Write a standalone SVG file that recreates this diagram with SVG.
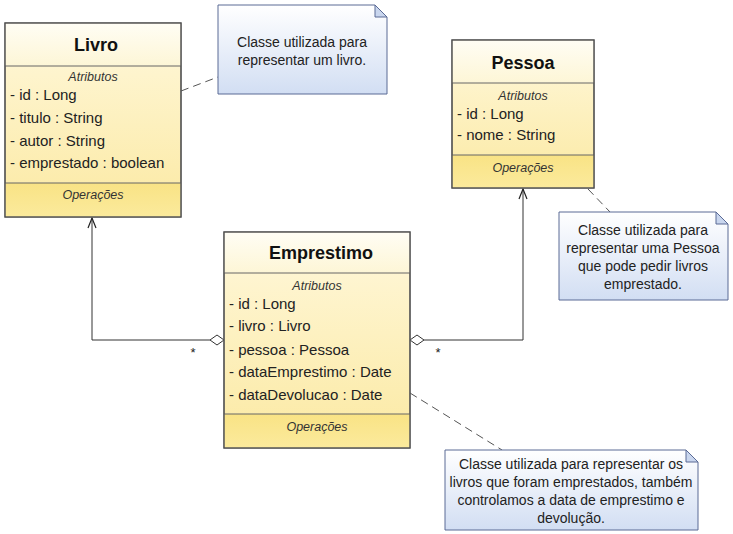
<svg xmlns="http://www.w3.org/2000/svg" width="733" height="534" viewBox="0 0 733 534">
<defs>
<linearGradient id="gTitle" x1="0" y1="0" x2="0" y2="1"><stop offset="0" stop-color="#fffdf4"/><stop offset="1" stop-color="#fdf6d6"/></linearGradient>
<linearGradient id="gAttr" x1="0" y1="0" x2="0" y2="1"><stop offset="0" stop-color="#fff8dc"/><stop offset="1" stop-color="#fbe9a2"/></linearGradient>
<linearGradient id="gOps" x1="0" y1="0" x2="0" y2="1"><stop offset="0" stop-color="#f9e385"/><stop offset="1" stop-color="#fbea9c"/></linearGradient>
<linearGradient id="gNote" x1="0" y1="0" x2="0" y2="1"><stop offset="0" stop-color="#ffffff"/><stop offset="1" stop-color="#d2def3"/></linearGradient>
<marker id="arrow" markerWidth="12" markerHeight="12" refX="11" refY="6" orient="auto" markerUnits="userSpaceOnUse" viewBox="0 0 12 12"><path d="M1,2 L11,6 L1,10" fill="none" stroke="#222" stroke-width="1.2"/></marker>
</defs>
<style>
.box{stroke:#555;stroke-width:1.2}
.sep{stroke:#666;stroke-width:1}
.title{font-family:"Liberation Sans",Arial,sans-serif;font-size:18px;font-weight:bold;fill:#111;text-anchor:middle}
.sec{font-family:"Liberation Sans",Arial,sans-serif;font-size:12.5px;font-style:italic;fill:#333;text-anchor:middle}
.attr{font-family:"Liberation Sans",Arial,sans-serif;font-size:15px;fill:#222}
.note{fill:url(#gNote);stroke:#5a6a95;stroke-width:1}
.fold{fill:#c9d6ee;stroke:#5a6a95;stroke-width:1}
.ntext{font-family:"Liberation Sans",Arial,sans-serif;font-size:14px;fill:#222;text-anchor:middle}
.line{fill:none;stroke:#333;stroke-width:1}
.dash{fill:none;stroke:#555;stroke-width:1;stroke-dasharray:8,5}
.mult{font-family:"Liberation Sans",Arial,sans-serif;font-size:13px;fill:#222;text-anchor:middle}
</style>
<rect width="733" height="534" fill="#ffffff"/>
<g id="connectors">
<polyline class="line" points="210,340 92,340 92,218" marker-end="url(#arrow)"/>
<path d="M224,340 L217,335 L210,340 L217,345 Z" fill="#fff" stroke="#333" stroke-width="1"/>
<text class="mult" x="193" y="357">*</text>
<polyline class="line" points="424,340 523,340 523,189" marker-end="url(#arrow)"/>
<path d="M410,340 L417,335 L424,340 L417,345 Z" fill="#fff" stroke="#333" stroke-width="1"/>
<text class="mult" x="438" y="357">*</text>
<line class="dash" x1="181" y1="91" x2="218" y2="77"/>
<line class="dash" x1="588" y1="189" x2="610" y2="212"/>
<line class="dash" x1="410" y1="393" x2="502" y2="450"/>
</g>
<g id="Livro">
<rect class="box" x="5" y="23" width="176" height="194" fill="url(#gAttr)"/>
<rect x="5.6" y="23.6" width="174.8" height="42.4" fill="url(#gTitle)"/>
<rect x="5.6" y="183" width="174.8" height="33.4" fill="url(#gOps)"/>
<line class="sep" x1="5" y1="66" x2="181" y2="66"/>
<line class="sep" x1="5" y1="183" x2="181" y2="183"/>
<rect class="box" x="5" y="23" width="176" height="194" fill="none"/>
<text class="title" x="96" y="51">Livro</text>
<text class="sec" x="93" y="81">Atributos</text>
<text class="attr" x="10" y="100">- id : Long</text>
<text class="attr" x="10" y="123">- titulo : String</text>
<text class="attr" x="10" y="146">- autor : String</text>
<text class="attr" x="10" y="168">- emprestado : boolean</text>
<text class="sec" x="93" y="199">Operações</text>
</g>
<g id="Pessoa">
<rect class="box" x="452" y="40" width="142" height="148" fill="url(#gAttr)"/>
<rect x="452.6" y="40.6" width="140.8" height="42.4" fill="url(#gTitle)"/>
<rect x="452.6" y="155" width="140.8" height="32.4" fill="url(#gOps)"/>
<line class="sep" x1="452" y1="83" x2="594" y2="83"/>
<line class="sep" x1="452" y1="155" x2="594" y2="155"/>
<rect class="box" x="452" y="40" width="142" height="148" fill="none"/>
<text class="title" x="523" y="69">Pessoa</text>
<text class="sec" x="523" y="100">Atributos</text>
<text class="attr" x="457" y="119">- id : Long</text>
<text class="attr" x="457" y="140">- nome : String</text>
<text class="sec" x="523" y="172">Operações</text>
</g>
<g id="Emprestimo">
<rect class="box" x="224" y="232" width="186" height="216" fill="url(#gAttr)"/>
<rect x="224.6" y="232.6" width="184.8" height="40.4" fill="url(#gTitle)"/>
<rect x="224.6" y="414" width="184.8" height="33.4" fill="url(#gOps)"/>
<line class="sep" x1="224" y1="273" x2="410" y2="273"/>
<line class="sep" x1="224" y1="414" x2="410" y2="414"/>
<rect class="box" x="224" y="232" width="186" height="216" fill="none"/>
<text class="title" x="321" y="259">Emprestimo</text>
<text class="sec" x="317" y="290">Atributos</text>
<text class="attr" x="229" y="309">- id : Long</text>
<text class="attr" x="229" y="331">- livro : Livro</text>
<text class="attr" x="229" y="355">- pessoa : Pessoa</text>
<text class="attr" x="229" y="377">- dataEmprestimo : Date</text>
<text class="attr" x="229" y="400">- dataDevolucao : Date</text>
<text class="sec" x="317" y="431">Operações</text>
</g>
<g id="NotaLivro">
<path class="note" d="M218,5 L375,5 L387,17 L387,94 L218,94 Z"/>
<path class="fold" d="M375,5 L375,17 L387,17 Z"/>
<text class="ntext" x="302" y="47">Classe utilizada para</text>
<text class="ntext" x="302" y="65">representar um livro.</text>
</g>
<g id="NotaPessoa">
<path class="note" d="M559,212 L716,212 L728,224 L728,300 L559,300 Z"/>
<path class="fold" d="M716,212 L716,224 L728,224 Z"/>
<text class="ntext" x="643" y="235">Classe utilizada para</text>
<text class="ntext" x="643" y="253">representar uma Pessoa</text>
<text class="ntext" x="643" y="271">que pode pedir livros</text>
<text class="ntext" x="643" y="289">emprestado.</text>
</g>
<g id="NotaEmprestimo">
<path class="note" d="M445,450 L686,450 L698,462 L698,530 L445,530 Z"/>
<path class="fold" d="M686,450 L686,462 L698,462 Z"/>
<text class="ntext" x="571" y="469">Classe utilizada para representar os</text>
<text class="ntext" x="571" y="487">livros que foram emprestados, também</text>
<text class="ntext" x="571" y="505">controlamos a data de emprestimo e</text>
<text class="ntext" x="571" y="523">devolução.</text>
</g>
</svg>
